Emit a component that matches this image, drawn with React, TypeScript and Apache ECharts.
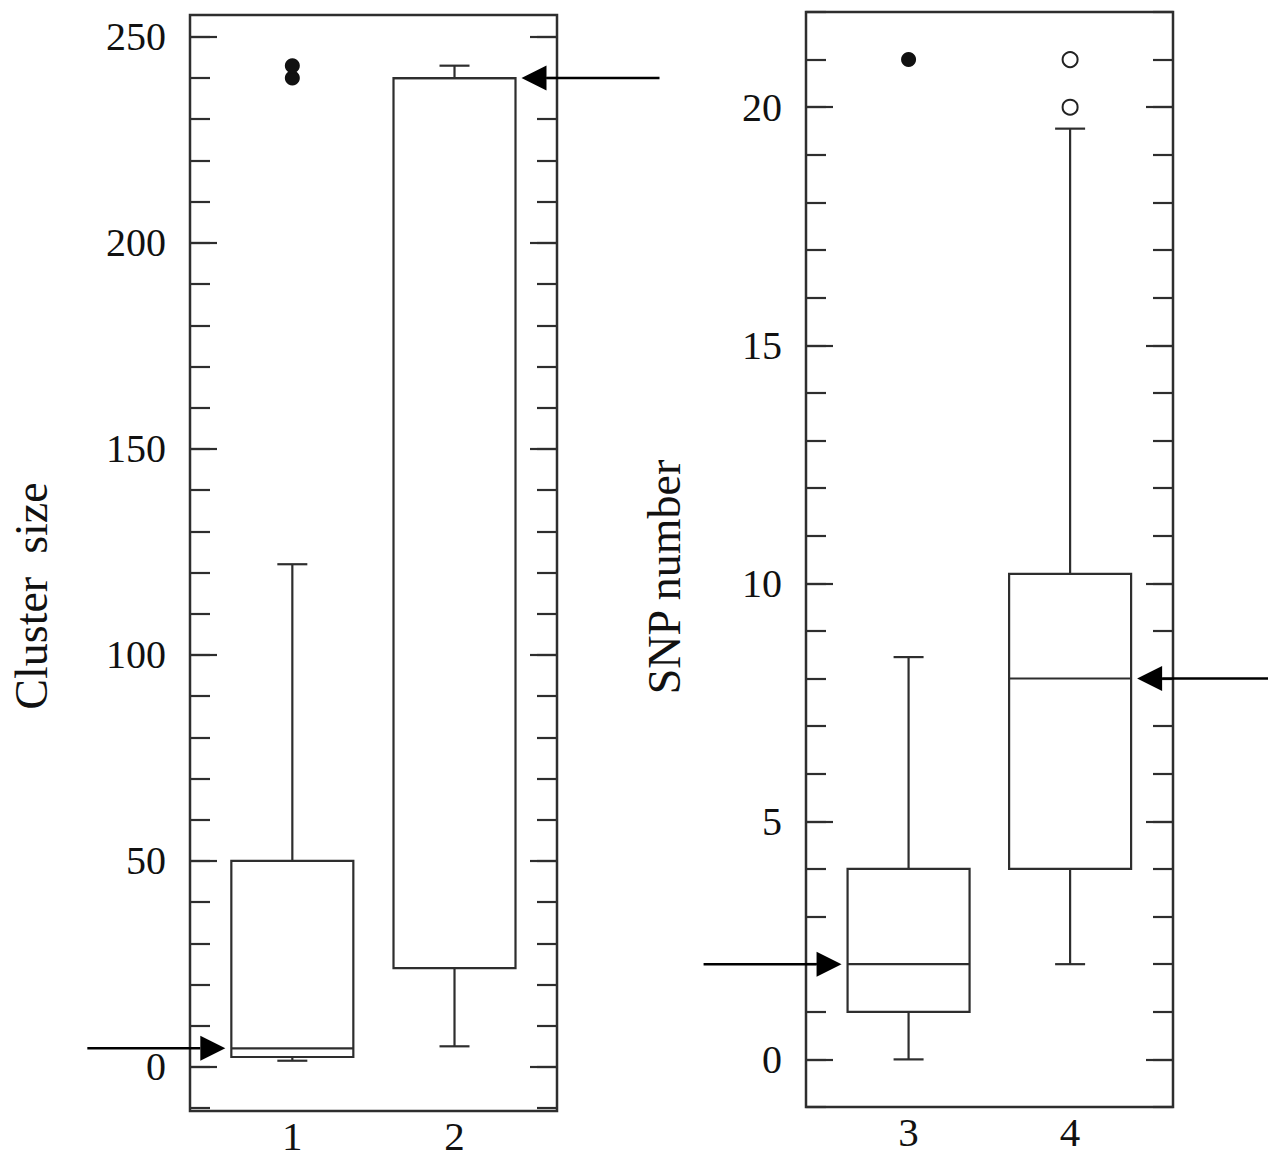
import React, { useEffect, useRef } from "react";
import * as echarts from "echarts";

// ---------- Data ----------
const clusterGroups = [1, 2];
const clusterLow = [1.5, 5];
const clusterQ1 = [2.4, 24];
const clusterMedian = [4.5, 240];
const clusterQ3 = [50, 240];
const clusterHigh = [122, 243];
const clusterArrowSide = ["left", "right"];
const clusterOutliers = [
  [1, 240],
  [1, 243],
];

const snpGroups = [3, 4];
const snpLow = [0, 2];
const snpQ1 = [1, 4];
const snpMedian = [2, 8];
const snpQ3 = [4, 10.2];
const snpHigh = [8.45, 19.55];
const snpArrowSide = ["left", "right"];
const snpFilledOutliers = [[3, 21]];
const snpHollowOutliers = [
  [4, 20],
  [4, 21],
];

const clusterMajorTicks = [0, 50, 100, 150, 200, 250];
const clusterMinorTicks = [
  -10, 0, 10, 20, 30, 40, 50, 60, 70, 80, 90, 100, 110, 120, 130, 140, 150, 160,
  170, 180, 190, 200, 210, 220, 230, 240, 250,
];
const snpMajorTicks = [0, 5, 10, 15, 20];
const snpMinorTicks = [
  -1, 0, 1, 2, 3, 4, 5, 6, 7, 8, 9, 10, 11, 12, 13, 14, 15, 16, 17, 18, 19, 20,
  21, 22,
];

const clusterAxisName = "Cluster  size";
const snpAxisName = "SNP number";

// ---------- Styles ----------
const FONT = "'Liberation Serif', 'Times New Roman', serif";
const LINE = "#2e2e2e";
const BOX_HALF = 61;
const CAP_HALF = 15;
const ARROW_GAP = 6;
const ARROW_LEN = 138;
const HEAD_LEN = 25;
const HEAD_HALF = 12.5;

function buildRows(g: number[], lo: number[], q1: number[], md: number[], q3: number[], hi: number[]) {
  return g.map((x, i) => [x, lo[i], q1[i], md[i], q3[i], hi[i]]);
}

function makeRenderItem(sides: string[]) {
  return (params: any, api: any) => {
    const x = api.value(0);
    const [cx, yLow] = api.coord([x, api.value(1)]);
    const yQ1 = api.coord([x, api.value(2)])[1];
    const yMed = api.coord([x, api.value(3)])[1];
    const yQ3 = api.coord([x, api.value(4)])[1];
    const yHigh = api.coord([x, api.value(5)])[1];
    const st = { stroke: LINE, lineWidth: 2.2, fill: "none" };
    const side = sides[params.dataIndex];
    let tip: number, tail: number, headBase: number;
    if (side === "left") {
      tip = cx - BOX_HALF - ARROW_GAP;
      tail = tip - ARROW_LEN;
      headBase = tip - HEAD_LEN;
    } else {
      tip = cx + BOX_HALF + ARROW_GAP;
      tail = tip + ARROW_LEN;
      headBase = tip + HEAD_LEN;
    }
    return {
      type: "group",
      children: [
        { type: "line", shape: { x1: cx, y1: yLow, x2: cx, y2: yQ1 }, style: st },
        { type: "line", shape: { x1: cx - CAP_HALF, y1: yLow, x2: cx + CAP_HALF, y2: yLow }, style: st },
        { type: "line", shape: { x1: cx, y1: yQ3, x2: cx, y2: yHigh }, style: st },
        { type: "line", shape: { x1: cx - CAP_HALF, y1: yHigh, x2: cx + CAP_HALF, y2: yHigh }, style: st },
        {
          type: "rect",
          shape: { x: cx - BOX_HALF, y: yQ3, width: BOX_HALF * 2, height: yQ1 - yQ3 },
          style: st,
        },
        { type: "line", shape: { x1: cx - BOX_HALF, y1: yMed, x2: cx + BOX_HALF, y2: yMed }, style: st },
        {
          type: "line",
          shape: { x1: tail, y1: yMed, x2: headBase, y2: yMed },
          style: { stroke: "#000", lineWidth: 2.5 },
        },
        {
          type: "polygon",
          shape: {
            points: [
              [tip, yMed],
              [headBase, yMed - HEAD_HALF],
              [headBase, yMed + HEAD_HALF],
            ],
          },
          style: { fill: "#000" },
        },
      ],
    };
  };
}

function yAxes(gridIndex: number, min: number, max: number, major: number[], minor: number[], showLabels: boolean) {
  const common = {
    type: "value",
    gridIndex,
    min,
    max,
    axisLine: { show: false, onZero: false },
    splitLine: { show: false },
  };
  const mk = (position: string, ticks: number[], len: number, labels: boolean) => ({
    ...common,
    position,
    axisTick: {
      show: true,
      inside: true,
      length: len,
      customValues: ticks,
      lineStyle: { color: LINE, width: 2.2 },
    },
    axisLabel: labels
      ? {
          show: true,
          customValues: major,
          fontSize: 40,
          fontFamily: FONT,
          color: "#111",
          margin: 24,
          padding: [7, 0, 0, 0],
        }
      : { show: false },
  });
  return [
    mk("left", major, 27, showLabels),
    mk("left", minor, 20, false),
    mk("right", major, 27, false),
    mk("right", minor, 20, false),
  ];
}

function xAxis(gridIndex: number, min: number, max: number, labels: number[]) {
  return {
    type: "value",
    gridIndex,
    min,
    max,
    position: "bottom",
    axisLine: { show: false, onZero: false },
    axisTick: { show: false },
    splitLine: { show: false },
    axisLabel: {
      show: true,
      customValues: labels,
      fontSize: 41,
      fontFamily: FONT,
      color: "#111",
      margin: 4,
    },
  };
}

export default function App() {
  const ref = useRef<HTMLDivElement>(null);
  useEffect(() => {
    document.body.style.margin = "0";
    if (!ref.current) return;
    const chart = echarts.init(ref.current, undefined, { renderer: "svg" });
    const gridStyle = { show: true, borderColor: "#2e2e2e", borderWidth: 2.5, backgroundColor: "#fff", containLabel: false };
    chart.setOption({
      animation: false,
      backgroundColor: "#fff",
      grid: [
        { ...gridStyle, left: 190, top: 15, width: 367, height: 1096 },
        { ...gridStyle, left: 806, top: 12, width: 367, height: 1095 },
      ],
      xAxis: [xAxis(0, 0.369, 2.632, clusterGroups), xAxis(1, 2.365, 4.637, snpGroups)],
      yAxis: [
        ...yAxes(0, -10.7, 255.3, clusterMajorTicks, clusterMinorTicks, true),
        ...yAxes(1, -1, 22, snpMajorTicks, snpMinorTicks, true),
      ],
      series: [
        {
          type: "custom",
          xAxisIndex: 0,
          yAxisIndex: 0,
          clip: false,
          encode: { x: 0, y: [1, 2, 3, 4, 5] },
          renderItem: makeRenderItem(clusterArrowSide),
          data: buildRows(clusterGroups, clusterLow, clusterQ1, clusterMedian, clusterQ3, clusterHigh),
        },
        {
          type: "scatter",
          xAxisIndex: 0,
          yAxisIndex: 0,
          symbolSize: 15,
          itemStyle: { color: "#111", opacity: 1 },
          data: clusterOutliers,
        },
        {
          type: "custom",
          xAxisIndex: 1,
          yAxisIndex: 4,
          clip: false,
          encode: { x: 0, y: [1, 2, 3, 4, 5] },
          renderItem: makeRenderItem(snpArrowSide),
          data: buildRows(snpGroups, snpLow, snpQ1, snpMedian, snpQ3, snpHigh),
        },
        {
          type: "scatter",
          xAxisIndex: 1,
          yAxisIndex: 4,
          symbolSize: 15,
          itemStyle: { color: "#111", opacity: 1 },
          data: snpFilledOutliers,
        },
        {
          type: "scatter",
          xAxisIndex: 1,
          yAxisIndex: 4,
          symbolSize: 15,
          itemStyle: { color: "#fff", borderColor: "#222", borderWidth: 2, opacity: 1 },
          data: snpHollowOutliers,
        },
      ],
      graphic: [
        {
          type: "text",
          x: 31.5,
          y: 596,
          rotation: Math.PI / 2,
          style: {
            text: clusterAxisName,
            fontSize: 46,
            fontFamily: FONT,
            fill: "#111",
            align: "center",
            verticalAlign: "middle",
          },
        },
        {
          type: "text",
          x: 664.5,
          y: 577,
          rotation: Math.PI / 2,
          style: {
            text: snpAxisName,
            fontSize: 46,
            fontFamily: FONT,
            fill: "#111",
            align: "center",
            verticalAlign: "middle",
          },
        },
      ],
    });
    return () => chart.dispose();
  }, []);
  return <div ref={ref} style={{ width: 1268, height: 1159 }} />;
}
